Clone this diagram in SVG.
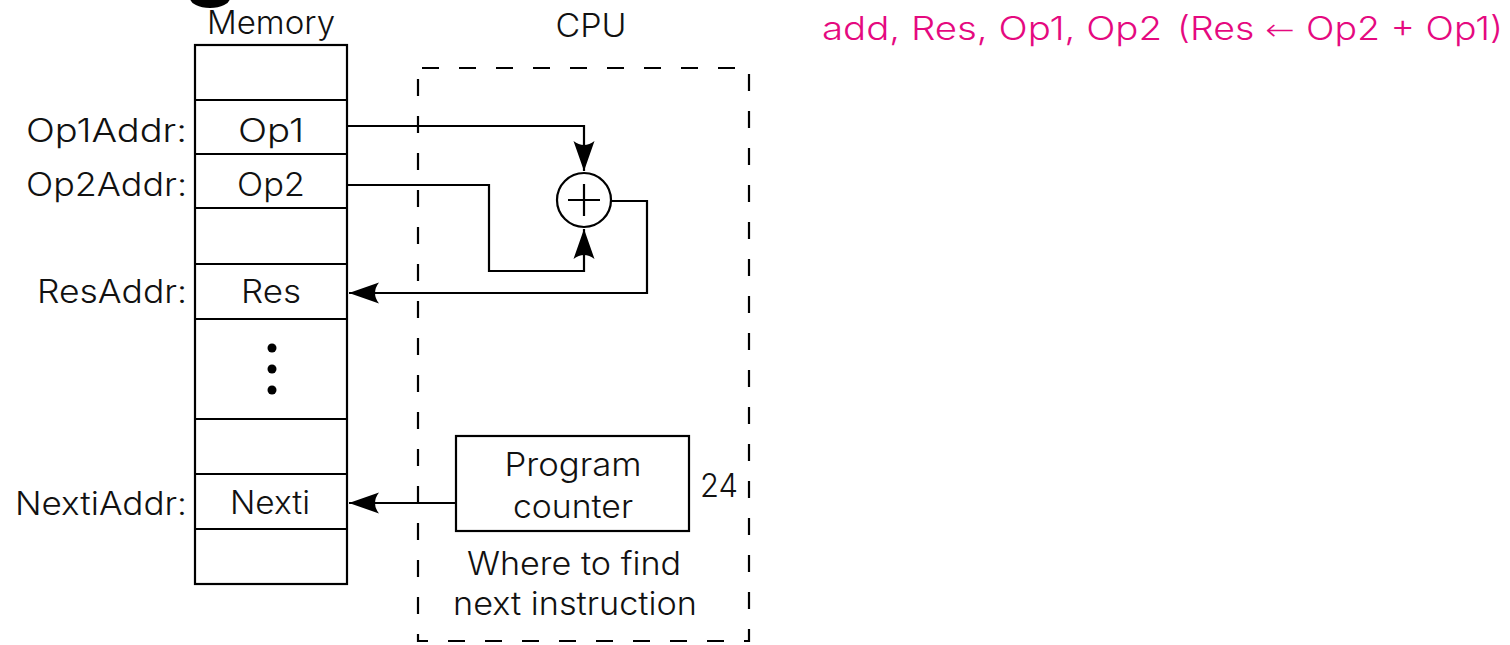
<svg xmlns="http://www.w3.org/2000/svg" width="1510" height="645" viewBox="0 0 1510 645">
  <style>
    .t { font-family: "Inter", "Liberation Sans", Arial, sans-serif; font-weight: 300; font-size: 32px; fill: #111; }
    .c { text-anchor: middle; }
    .r { text-anchor: end; }
    .pink { fill: #E5097F; }
    .ln { fill: none; stroke: #000; stroke-width: 2.2; }
    .cell { fill: #fff; stroke: #000; stroke-width: 2.2; }
  </style>
  <defs>
    <marker id="arrow" viewBox="-32 -12 34 24" refX="0" refY="0" markerWidth="34" markerHeight="24" markerUnits="userSpaceOnUse" orient="auto">
      <path d="M0,0 L-30,-10.5 Q-22,0 -30,10.5 Z" fill="#000"/>
    </marker>
  </defs>

  <rect width="1510" height="645" fill="#fff"/>

  <!-- stray ink blot at the top edge -->
  <ellipse cx="210" cy="-2" rx="20" ry="10" fill="#000"/>

  <!-- memory column -->
  <g id="memory">
    <text class="t c" x="271" y="34" textLength="128" lengthAdjust="spacingAndGlyphs">Memory</text>
    <rect class="cell" x="195" y="45" width="152" height="539"/>
    <path class="ln" d="M195,100 H347 M195,154 H347 M195,208 H347 M195,264 H347 M195,319 H347 M195,419 H347 M195,474 H347 M195,529 H347"/>
    <text class="t c" x="271" y="142" textLength="66" lengthAdjust="spacingAndGlyphs">Op1</text>
    <text class="t c" x="271" y="196" textLength="68" lengthAdjust="spacingAndGlyphs">Op2</text>
    <text class="t c" x="271" y="303" textLength="60" lengthAdjust="spacingAndGlyphs">Res</text>
    <text class="t c" x="270" y="514" textLength="80" lengthAdjust="spacingAndGlyphs">Nexti</text>
    <circle cx="272" cy="348" r="4.5" fill="#000"/>
    <circle cx="272" cy="369" r="4.5" fill="#000"/>
    <circle cx="272" cy="390" r="4.5" fill="#000"/>
  </g>

  <!-- address labels -->
  <g id="addresses">
    <text class="t r" x="187" y="142" textLength="161" lengthAdjust="spacingAndGlyphs">Op1Addr:</text>
    <text class="t r" x="187" y="196" textLength="161" lengthAdjust="spacingAndGlyphs">Op2Addr:</text>
    <text class="t r" x="187" y="303" textLength="150" lengthAdjust="spacingAndGlyphs">ResAddr:</text>
    <text class="t r" x="187" y="515" textLength="172" lengthAdjust="spacingAndGlyphs">NextiAddr:</text>
  </g>

  <!-- CPU boundary -->
  <g id="cpu">
    <text class="t c" x="591" y="37" textLength="71" lengthAdjust="spacingAndGlyphs">CPU</text>
    <rect x="418" y="68" width="331" height="573" fill="none" stroke="#000" stroke-width="2.2" stroke-dasharray="17 20" stroke-dashoffset="-4"/>
  </g>

  <!-- adder -->
  <g id="adder">
    <circle cx="584" cy="200" r="27" fill="#fff" stroke="#000" stroke-width="2.2"/>
    <path class="ln" d="M568,200 H600 M584,184 V216"/>
  </g>

  <!-- program counter -->
  <g id="pc">
    <rect class="cell" x="456" y="436" width="233" height="95"/>
    <text class="t c" x="573" y="476" textLength="137" lengthAdjust="spacingAndGlyphs">Program</text>
    <text class="t c" x="573" y="518" textLength="120" lengthAdjust="spacingAndGlyphs">counter</text>
    <text class="t" x="700" y="497" textLength="38" lengthAdjust="spacingAndGlyphs">24</text>
    <text class="t c" x="574" y="575" textLength="214" lengthAdjust="spacingAndGlyphs">Where to find</text>
    <text class="t c" x="575" y="615" textLength="244" lengthAdjust="spacingAndGlyphs">next instruction</text>
  </g>

  <!-- instruction caption -->
  <g id="caption">
    <text class="t pink" x="822" y="40" textLength="340" lengthAdjust="spacingAndGlyphs">add, Res, Op1, Op2</text>
    <text class="t pink" x="1177" y="40" textLength="326" lengthAdjust="spacingAndGlyphs">(Res<tspan font-family="DejaVu Sans, sans-serif" font-size="30"> ← </tspan>Op2 + Op1)</text>
  </g>

  <!-- data paths -->
  <g id="connectors">
    <path class="ln" d="M347,126 H584 V171" marker-end="url(#arrow)"/>
    <path class="ln" d="M347,185 H489 V271 H584 V229" marker-end="url(#arrow)"/>
    <path class="ln" d="M611,201 H647 V293 H349" marker-end="url(#arrow)"/>
    <path class="ln" d="M456,503 H349" marker-end="url(#arrow)"/>
  </g>
</svg>
